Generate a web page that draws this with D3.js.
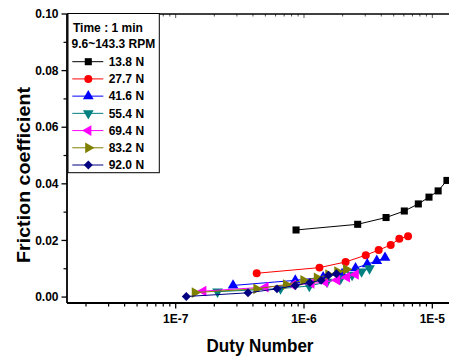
<!doctype html>
<html lang="en">
<head>
<meta charset="UTF-8">
<title>Friction coefficient vs Duty Number</title>
<style>
  body { margin: 0; background: #fff; }
  text { font-family: "Liberation Sans", Arial, sans-serif; font-weight: bold; fill: #000; }
</style>
</head>
<body>
<script src="https://d3js.org/d3.v7.min.js"></script>
<script>
// data
var loads = ["13.8 N", "27.7 N", "41.6 N", "55.4 N", "69.4 N", "83.2 N", "92.0 N"];
var colors = ["#000000", "#ff0000", "#0000ff", "#008080", "#ff00ff", "#808000", "#000080"];
var shapes = ["square", "circle", "up", "down", "left", "right", "diamond"];

var duty_138 = [8.67e-7, 2.62e-6, 4.36e-6, 6.05e-6, 7.78e-6, 9.42e-6, 1.11e-5, 1.30e-5];
var mu_138   = [0.0237, 0.0257, 0.0281, 0.0304, 0.0329, 0.0353, 0.0375, 0.0412];
var duty_277 = [4.28e-7, 1.32e-6, 2.11e-6, 3.03e-6, 3.82e-6, 4.74e-6, 5.53e-6, 6.47e-6];
var mu_277   = [0.0084, 0.0104, 0.0124, 0.0148, 0.0166, 0.0184, 0.0206, 0.0215];
var duty_416 = [2.80e-7, 8.55e-7, 1.41e-6, 1.98e-6, 2.52e-6, 3.11e-6, 3.69e-6, 4.28e-6];
var mu_416   = [0.0041, 0.0059, 0.0070, 0.0082, 0.0102, 0.0116, 0.0128, 0.0139];
var duty_554 = [2.12e-7, 6.56e-7, 1.10e-6, 1.51e-6, 1.93e-6, 2.37e-6, 2.81e-6, 3.24e-6];
var mu_554   = [0.0019, 0.0030, 0.0039, 0.0054, 0.0065, 0.0078, 0.0090, 0.0101];
var duty_694 = [1.64e-7, 5.01e-7, 8.21e-7, 1.14e-6, 1.46e-6, 1.81e-6, 2.16e-6, 2.53e-6];
var mu_694   = [0.0021, 0.0035, 0.0043, 0.0048, 0.0053, 0.0060, 0.0070, 0.0080];
var duty_832 = [1.41e-7, 4.26e-7, 7.24e-7, 9.91e-7, 1.26e-6, 1.55e-6, 1.82e-6, 2.13e-6];
var mu_832   = [0.0016, 0.0029, 0.0044, 0.0059, 0.0068, 0.0079, 0.0090, 0.0098];
var duty_920 = [1.21e-7, 3.66e-7, 6.16e-7, 8.55e-7, 1.11e-6, 1.36e-6, 1.55e-6, 1.79e-6];
var mu_920   = [0.0002, 0.0015, 0.0029, 0.0041, 0.0051, 0.0059, 0.0077, 0.0082];

var xTickLabels = ["1E-7", "1E-6", "1E-5"];
var xMajor = [1e-7, 1e-6, 1e-5];
var yTicks = [0, 0.02, 0.04, 0.06, 0.08, 0.10];
var yMinorTicks = [0.01, 0.03, 0.05, 0.07, 0.09];

var allDuty = [duty_138, duty_277, duty_416, duty_554, duty_694, duty_832, duty_920];
var allMu = [mu_138, mu_277, mu_416, mu_554, mu_694, mu_832, mu_920];

var width = 449, height = 357;
var plotL = 67, plotR = 449, plotT = 14, plotB = 303;

var svg = d3.select("body").append("svg")
    .attr("width", width)
    .attr("height", height);

var x = d3.scaleLog().domain([1.422e-8, 1.349e-5]).range([plotL, plotR]);
var y = d3.scaleLinear().domain([-0.0021, 0.1]).range([plotB, plotT]);

// ticks
var xAll = x.ticks().filter(function(t) { return x(t) > plotL + 1 && x(t) < plotR; });
var xMinor = xAll.filter(function(t) {
    return xMajor.every(function(m) { return Math.abs(m - t) / m > 1e-6; });
});

var axes = svg.append("g").attr("stroke", "#000").attr("fill", "none");

// bottom
axes.selectAll(".xmin").data(xMinor).enter().append("line")
    .attr("x1", function(d) { return x(d); }).attr("x2", function(d) { return x(d); })
    .attr("y1", plotB).attr("y2", plotB + 3.5).attr("stroke-width", 1.2);
axes.selectAll(".xmaj").data(xMajor).enter().append("line")
    .attr("x1", function(d) { return x(d); }).attr("x2", function(d) { return x(d); })
    .attr("y1", plotB).attr("y2", plotB + 5.5).attr("stroke-width", 1.3);
// top (inward)
axes.selectAll(".tmin").data(xMinor).enter().append("line")
    .attr("x1", function(d) { return x(d); }).attr("x2", function(d) { return x(d); })
    .attr("y1", plotT).attr("y2", plotT + 2.5)
    .attr("stroke-width", 1).attr("stroke", "#555");
axes.selectAll(".tmaj").data(xMajor).enter().append("line")
    .attr("x1", function(d) { return x(d); }).attr("x2", function(d) { return x(d); })
    .attr("y1", plotT).attr("y2", plotT + 4)
    .attr("stroke-width", 1).attr("stroke", "#555");
// left
axes.selectAll(".ymaj").data(yTicks).enter().append("line")
    .attr("x1", plotL - 5.5).attr("x2", plotL)
    .attr("y1", function(d) { return y(d); }).attr("y2", function(d) { return y(d); })
    .attr("stroke-width", 1.3);
axes.selectAll(".ymin").data(yMinorTicks).enter().append("line")
    .attr("x1", plotL - 3.5).attr("x2", plotL)
    .attr("y1", function(d) { return y(d); }).attr("y2", function(d) { return y(d); })
    .attr("stroke-width", 1.2);

axes.append("line").attr("x1", plotL).attr("x2", plotR).attr("y1", plotB).attr("y2", plotB).attr("stroke-width", 1.8);
axes.append("line").attr("x1", plotL).attr("x2", plotR).attr("y1", plotT).attr("y2", plotT).attr("stroke-width", 1.5);
axes.append("line").attr("x1", plotL).attr("x2", plotL).attr("y1", plotT).attr("y2", plotB).attr("stroke-width", 1.8);

// tick labels
svg.selectAll(".xl").data(xMajor).enter().append("text")
    .attr("x", function(d) { return x(d); })
    .attr("y", 322.5)
    .attr("text-anchor", "middle")
    .style("font-size", "12px")
    .text(function(d, i) { return xTickLabels[i]; });

svg.selectAll(".yl").data(yTicks).enter().append("text")
    .attr("x", 58.5)
    .attr("y", function(d) { return y(d) + 4.2; })
    .attr("text-anchor", "end")
    .style("font-size", "12px")
    .text(function(d) { return d3.format(".2f")(d); });

// axis titles
svg.append("text")
    .attr("x", 260).attr("y", 351.5)
    .attr("text-anchor", "middle")
    .attr("textLength", 107).attr("lengthAdjust", "spacingAndGlyphs")
    .style("font-size", "18px")
    .text("Duty Number");

svg.append("text")
    .attr("transform", "translate(30,175) rotate(-90)")
    .attr("text-anchor", "middle")
    .attr("textLength", 176).attr("lengthAdjust", "spacingAndGlyphs")
    .style("font-size", "18px")
    .text("Friction coefficient");

// markers
function symbolPath(shape) {
    if (shape === "square") return d3.symbol().type(d3.symbolSquare).size(50)();
    if (shape === "circle") return d3.symbol().type(d3.symbolCircle).size(50)();
    if (shape === "diamond") return d3.symbol().type(d3.symbolSquare).size(40)();
    return d3.symbol().type(d3.symbolTriangle).size(50)();
}
function symbolRotate(shape) {
    return {down: 180, left: -90, right: 90, diamond: 45}[shape] || 0;
}

var line = d3.line()
    .x(function(d) { return x(d[0]); })
    .y(function(d) { return y(d[1]); });

var plot = svg.append("g");

allDuty.forEach(function(duty, i) {
    var pts = duty.map(function(dv, j) { return [dv, allMu[i][j]]; });
    var g = plot.append("g");
    g.append("path")
        .datum(pts)
        .attr("d", line)
        .attr("fill", "none")
        .attr("stroke", colors[i])
        .attr("stroke-width", 1);
    g.selectAll("path.m").data(pts).enter().append("path")
        .attr("class", "m")
        .attr("d", symbolPath(shapes[i]))
        .attr("transform", function(d) {
            return "translate(" + x(d[0]) + "," + y(d[1]) + ") rotate(" + symbolRotate(shapes[i]) + ")";
        })
        .attr("fill", colors[i]);
});

// legend
var legend = svg.append("g");
legend.append("rect")
    .attr("x", 68).attr("y", 13.5)
    .attr("width", 91.3).attr("height", 159.2)
    .attr("fill", "#fff").attr("stroke", "#000").attr("stroke-width", 1);

legend.append("text").attr("x", 73).attr("y", 32).style("font-size", "12px").text("Time : 1 min");
legend.append("text").attr("x", 71.5).attr("y", 48).style("font-size", "12px").text("9.6~143.3 RPM");

var rowY = d3.scaleLinear().domain([0, 6]).range([61.7, 165]);

loads.forEach(function(name, i) {
    var ry = rowY(i);
    legend.append("line")
        .attr("x1", 72.3).attr("x2", 103.3)
        .attr("y1", ry).attr("y2", ry)
        .attr("stroke", colors[i]).attr("stroke-width", 1);
    legend.append("path")
        .attr("d", symbolPath(shapes[i]))
        .attr("transform", "translate(88.3," + ry + ") rotate(" + symbolRotate(shapes[i]) + ")")
        .attr("fill", colors[i]);
    legend.append("text")
        .attr("x", 108.7).attr("y", ry + 4.3)
        .style("font-size", "12px")
        .text(name);
});
</script>
</body>
</html>
